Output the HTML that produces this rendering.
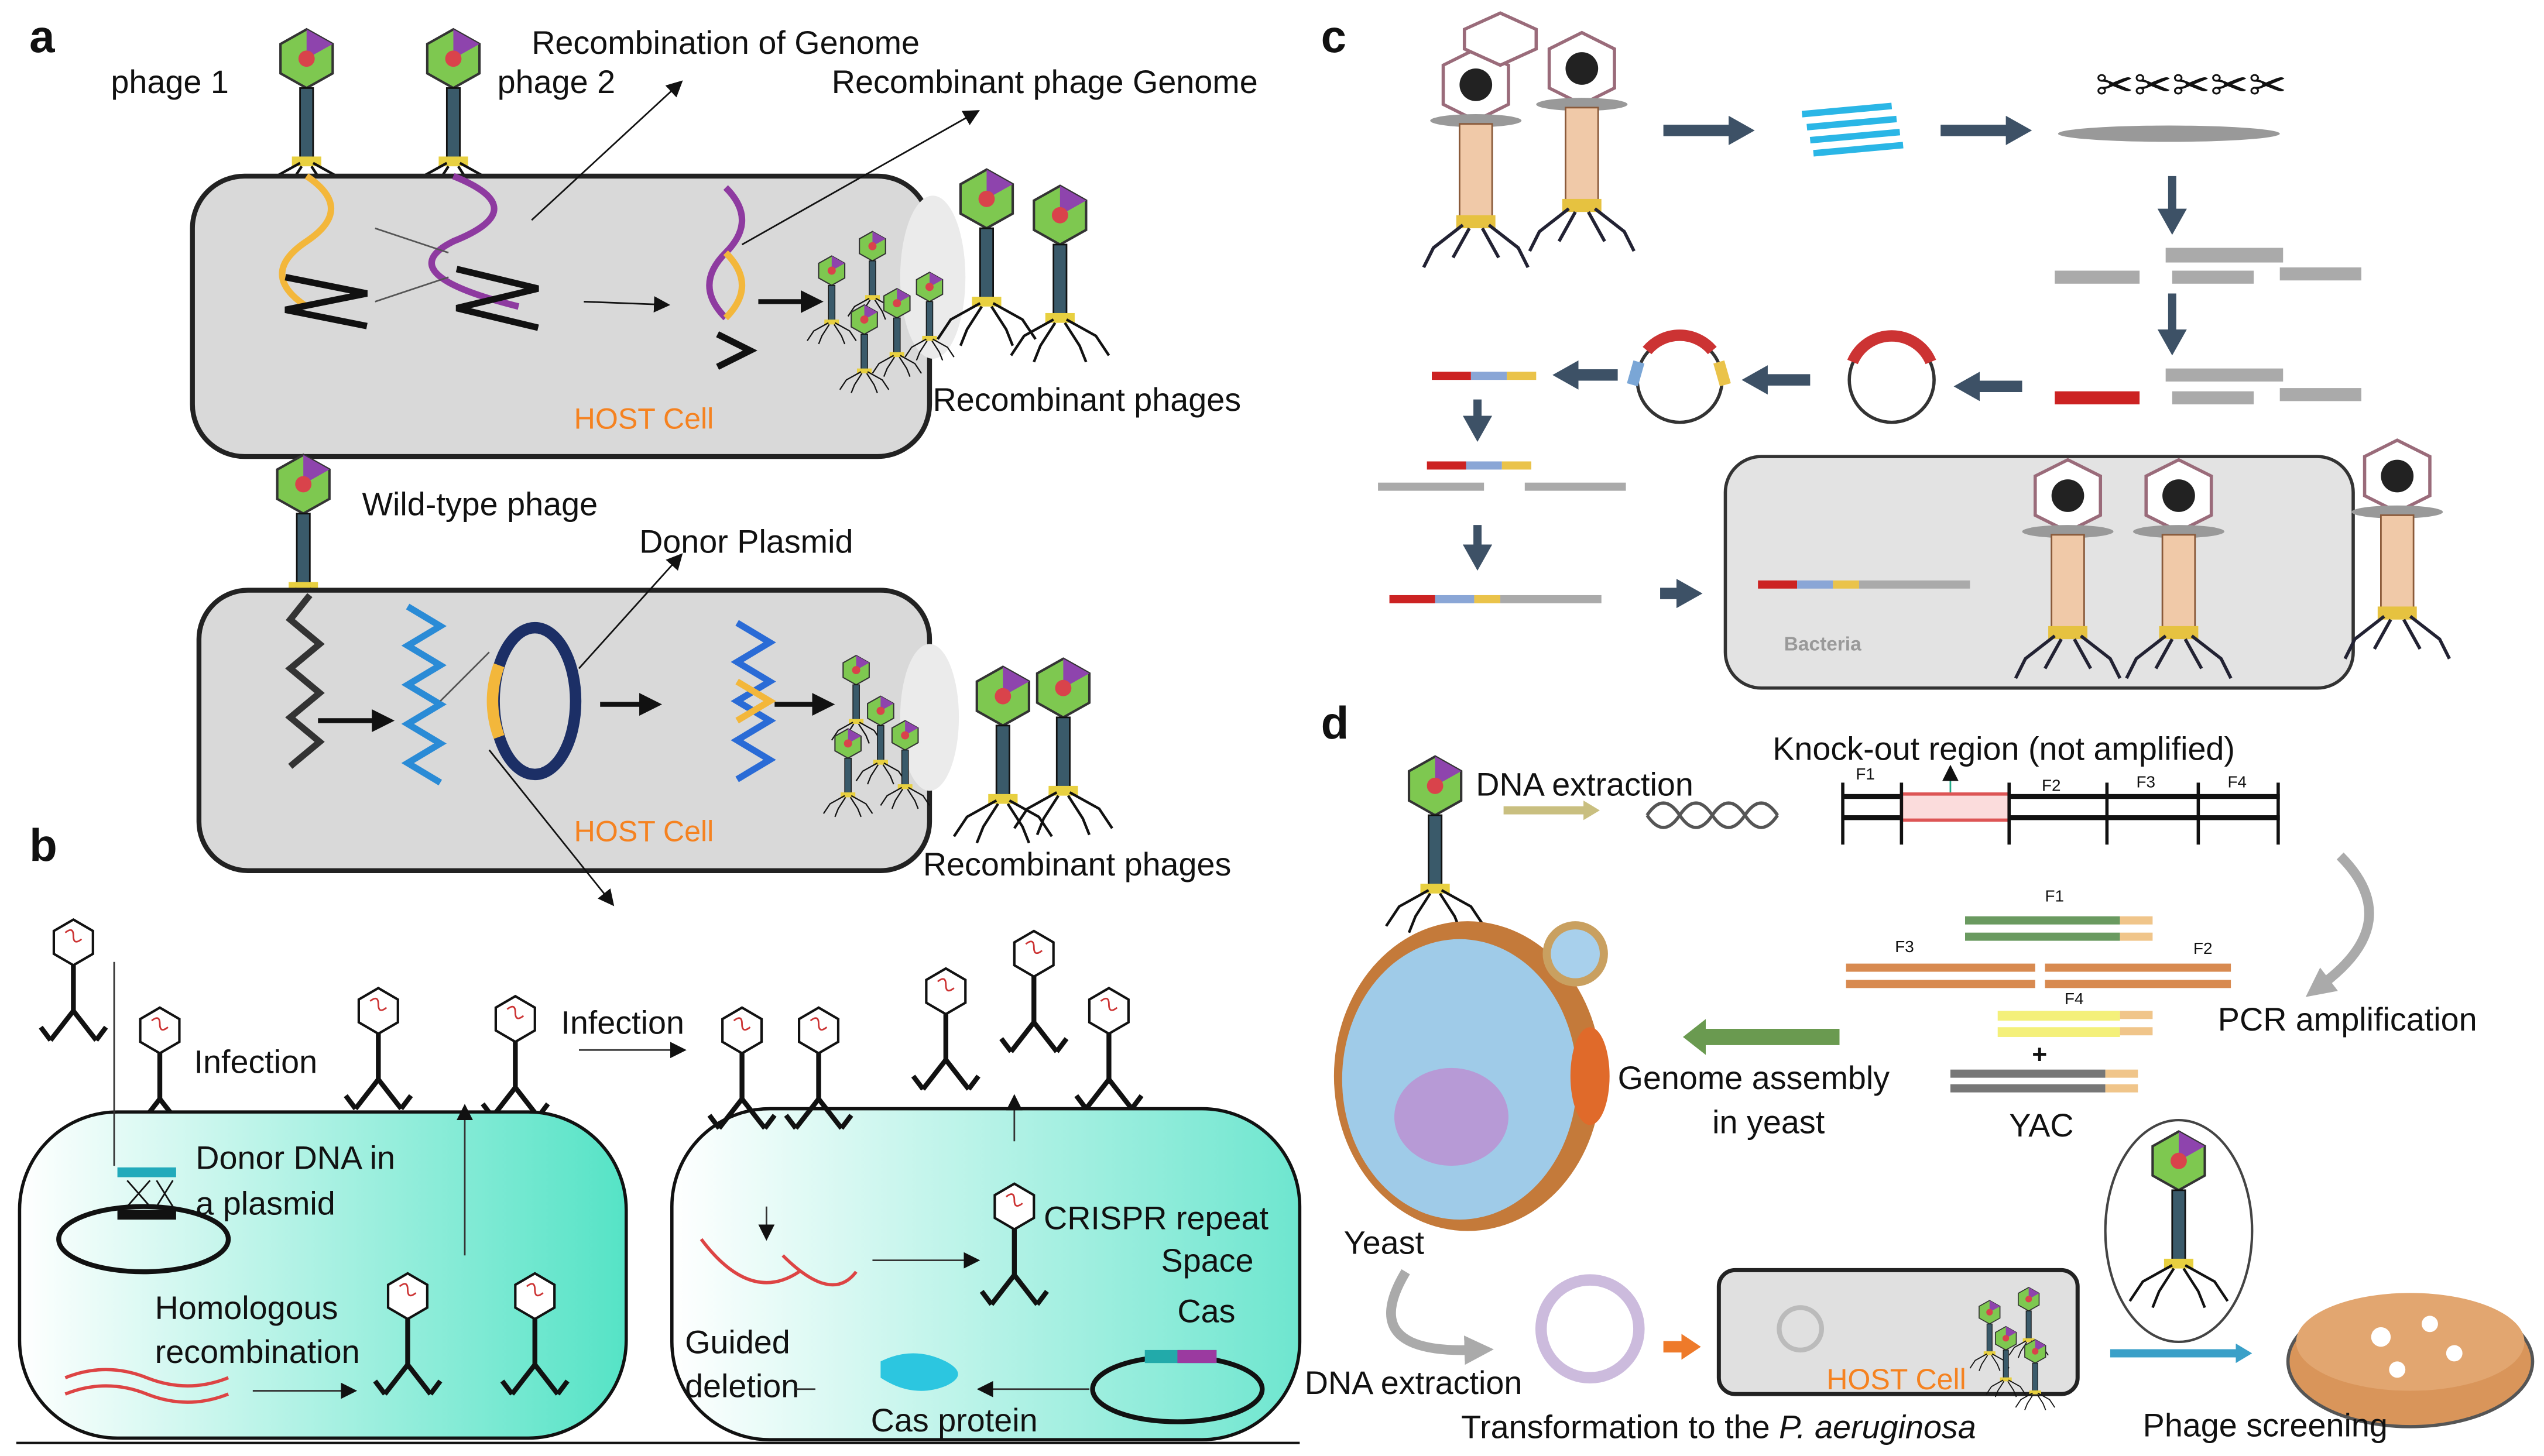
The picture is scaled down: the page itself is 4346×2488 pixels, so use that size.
<!DOCTYPE html>
<html><head><meta charset="utf-8"><style>
html,body{margin:0;padding:0;background:#fff}
svg{display:block}
text{font-family:"Liberation Sans",sans-serif;fill:#111}
</style></head><body>
<svg width="4346" height="2488" viewBox="0 0 1560 893" preserveAspectRatio="none" xmlns="http://www.w3.org/2000/svg">
<defs>
<linearGradient id="teal" x1="0" x2="1" y1="0" y2="0"><stop offset="0" stop-color="#ffffff"/><stop offset="1" stop-color="#55e3c6"/></linearGradient>
<linearGradient id="teal2" x1="0" x2="1" y1="0" y2="0"><stop offset="0" stop-color="#ffffff"/><stop offset="1" stop-color="#6ee6cf"/></linearGradient>
<g id="ph">
 <polygon points="0,-26 16,-17 16,1 0,10 -16,1 -16,-17" fill="#7ec850" stroke="#333" stroke-width="1.5"/>
 <polygon points="0,-26 16,-17 0,-8" fill="#8e44ad"/>
 <circle cx="0" cy="-8" r="5" fill="#d9434b"/>
 <rect x="-4" y="10" width="8" height="44" fill="#3a5a6a" stroke="#111"/>
 <rect x="-9" y="52" width="18" height="6" fill="#e8d040"/>
 <path d="M-4 56 L-22 66 L-30 78 M4 56 L22 66 L30 78 M-3 58 L-12 72 L-16 82 M3 58 L12 72 L16 82" stroke="#111" stroke-width="1.6" fill="none"/>
</g>
<g id="phb">
 <polygon points="0,-14 12,-7 12,7 0,14 -12,7 -12,-7" fill="#fff" stroke="#111" stroke-width="1.5"/>
 <path d="M-5 -6 q5 -4 5 2 q0 6 5 2" stroke="#c33" fill="none"/>
 <line x1="0" y1="14" x2="0" y2="42" stroke="#111" stroke-width="3"/>
 <path d="M0 42 L-14 60 M0 42 L14 60 M-14 60 L-20 52 M14 60 L20 52" stroke="#111" stroke-width="3" fill="none"/>
</g>
<g id="phc">
 <polygon points="0,-30 20,-20 20,4 0,14 -20,4 -20,-20" fill="#fff" stroke="#9a6b7a" stroke-width="2"/>
 <circle cx="0" cy="-8" r="10" fill="#222"/>
 <ellipse cx="0" cy="14" rx="28" ry="4" fill="#999"/>
 <rect x="-10" y="16" width="20" height="58" fill="#f0c9a8" stroke="#8a5a3a"/>
 <rect x="-12" y="72" width="24" height="8" fill="#e6c240"/>
 <path d="M-8 78 L-26 92 L-32 104 M8 78 L26 92 L32 104 M-4 80 L-14 98 M4 80 L14 98" stroke="#223" stroke-width="2" fill="none"/>
</g>
<marker id="ar" markerUnits="userSpaceOnUse" markerWidth="10" markerHeight="10" refX="9" refY="5" orient="auto"><path d="M0,0 L10,5 L0,10z" fill="#111"/></marker>
<marker id="arb" markerUnits="userSpaceOnUse" markerWidth="16" markerHeight="18" refX="4" refY="9" orient="auto"><path d="M0,0 L16,9 L0,18z" fill="#3d5166"/></marker>
<marker id="ark" markerUnits="userSpaceOnUse" markerWidth="14" markerHeight="14" refX="4" refY="7" orient="auto"><path d="M0,0 L14,7 L0,14z" fill="#111"/></marker>
<marker id="arg" markerUnits="userSpaceOnUse" markerWidth="18" markerHeight="18" refX="4" refY="9" orient="auto"><path d="M0,0 L18,9 L0,18z" fill="#aaa"/></marker>
<marker id="argr" markerUnits="userSpaceOnUse" markerWidth="14" markerHeight="22" refX="4" refY="11" orient="auto"><path d="M0,0 L14,11 L0,22z" fill="#6a9a50"/></marker>
<marker id="ary" markerUnits="userSpaceOnUse" markerWidth="10" markerHeight="12" refX="3" refY="6" orient="auto"><path d="M0,0 L10,6 L0,12z" fill="#c9bf80"/></marker>
<marker id="aro" markerUnits="userSpaceOnUse" markerWidth="12" markerHeight="16" refX="3" refY="8" orient="auto"><path d="M0,0 L12,8 L0,16z" fill="#ee7a2a"/></marker>
<marker id="arc" markerUnits="userSpaceOnUse" markerWidth="10" markerHeight="12" refX="3" refY="6" orient="auto"><path d="M0,0 L10,6 L0,12z" fill="#3aa0c8"/></marker>
</defs>
<rect width="1560" height="893" fill="#fff"/>

<!-- Panel a -->
<text x="18" y="32" font-size="28" font-weight="bold">a</text>
<text x="68" y="57" font-size="20">phage 1</text>
<text x="305" y="57" font-size="20">phage 2</text>
<text x="326" y="33" font-size="20">Recombination of Genome</text>
<text x="510" y="57" font-size="20">Recombinant phage Genome</text>
<use href="#ph" x="188" y="44"/>
<use href="#ph" x="278" y="44"/>
<rect x="118" y="108" width="452" height="172" rx="32" fill="#d9d9d9" stroke="#222" stroke-width="3"/>
<ellipse cx="572" cy="170" rx="20" ry="50" fill="#ebebeb"/>
<path d="M188 108 q30 20 0 40 q-30 20 0 40" stroke="#f3b73b" stroke-width="4" fill="none"/>
<path d="M278 108 q50 20 0 40 q-40 20 40 40" stroke="#8e3aa0" stroke-width="4" fill="none"/>
<path d="M175 170 l50 10 l-50 10 l50 10" stroke="#111" stroke-width="4" fill="none"/>
<path d="M280 165 l50 12 l-50 12 l50 12" stroke="#111" stroke-width="4" fill="none"/>
<line x1="230" y1="140" x2="275" y2="155" stroke="#555"/><line x1="230" y1="185" x2="275" y2="170" stroke="#555"/>
<line x1="358" y1="185" x2="410" y2="187" stroke="#111" marker-end="url(#ar)"/>
<path d="M445 115 q20 20 0 40 q-20 20 0 40" stroke="#8e3aa0" stroke-width="4" fill="none"/>
<path d="M445 155 q20 20 0 40" stroke="#f3b73b" stroke-width="4" fill="none"/>
<path d="M440 205 l20 10 l-20 10" stroke="#111" stroke-width="4" fill="none"/>
<line x1="465" y1="185" x2="495" y2="185" stroke="#111" stroke-width="3" marker-end="url(#ark)"/>
<line x1="326" y1="135" x2="418" y2="50" stroke="#111" marker-end="url(#ar)"/>
<line x1="455" y1="150" x2="600" y2="68" stroke="#111" marker-end="url(#ar)"/>
<g transform="scale(0.5)"><use href="#ph" x="1020" y="340"/><use href="#ph" x="1070" y="310"/><use href="#ph" x="1100" y="380"/><use href="#ph" x="1060" y="400"/><use href="#ph" x="1140" y="360"/></g>
<use href="#ph" x="605" y="130"/><use href="#ph" x="650" y="140"/>
<text x="352" y="263" font-size="18" style="fill:#f58220">HOST Cell</text>
<text x="572" y="252" font-size="20">Recombinant phages</text>

<use href="#ph" x="186" y="305"/>
<text x="222" y="316" font-size="20">Wild-type phage</text>
<text x="392" y="339" font-size="20">Donor Plasmid</text>
<rect x="122" y="362" width="448" height="172" rx="30" fill="#d9d9d9" stroke="#222" stroke-width="3"/>
<ellipse cx="570" cy="440" rx="18" ry="45" fill="#ebebeb"/>
<path d="M190 365 l-12 15 l18 15 l-18 15 l18 15 l-18 15 l18 15 l-18 15" stroke="#333" stroke-width="4" fill="none"/>
<line x1="195" y1="442" x2="232" y2="442" stroke="#111" stroke-width="3" marker-end="url(#ark)"/>
<path d="M250 372 l20 12 l-20 12 l20 12 l-20 12 l20 12 l-20 12 l20 12 l-20 12 l20 12" stroke="#2a8bd6" stroke-width="4" fill="none"/>
<ellipse cx="328" cy="430" rx="25" ry="45" fill="none" stroke="#1c2f66" stroke-width="7"/>
<path d="M306 408 q-8 22 0 44" stroke="#f3b73b" stroke-width="7" fill="none"/>
<line x1="368" y1="432" x2="396" y2="432" stroke="#111" stroke-width="3" marker-end="url(#ark)"/>
<path d="M452 382 l20 12 l-20 12 l20 12 l-20 12 l20 12 l-20 12 l20 12 l-20 12" stroke="#2a6bd6" stroke-width="4" fill="none"/>
<path d="M452 418 l20 12 l-20 12" stroke="#f3b73b" stroke-width="4" fill="none"/>
<line x1="475" y1="432" x2="502" y2="432" stroke="#111" stroke-width="3" marker-end="url(#ark)"/>
<line x1="355" y1="410" x2="418" y2="340" stroke="#111" marker-end="url(#ar)"/>
<line x1="300" y1="460" x2="376" y2="555" stroke="#111" marker-end="url(#ar)"/>
<line x1="270" y1="430" x2="300" y2="400" stroke="#555"/>
<g transform="scale(0.5)"><use href="#ph" x="1050" y="830"/><use href="#ph" x="1080" y="880"/><use href="#ph" x="1040" y="920"/><use href="#ph" x="1110" y="910"/></g>
<use href="#ph" x="615" y="435"/><use href="#ph" x="652" y="430"/>
<text x="352" y="516" font-size="18" style="fill:#f58220">HOST Cell</text>
<text x="566" y="537" font-size="20">Recombinant phages</text>

<!-- Panel b -->
<text x="18" y="528" font-size="28" font-weight="bold">b</text>
<use href="#phb" x="45" y="578"/>
<use href="#phb" x="98" y="632"/>
<use href="#phb" x="232" y="620"/>
<use href="#phb" x="316" y="625"/>
<text x="119" y="658" font-size="20">Infection</text>
<text x="344" y="634" font-size="20">Infection</text>
<line x1="355" y1="644" x2="420" y2="644" stroke="#333" marker-end="url(#ar)"/>
<rect x="12" y="682" width="372" height="200" rx="60" fill="url(#teal)" stroke="#111" stroke-width="2"/>
<text x="120" y="717" font-size="20">Donor DNA in</text>
<text x="120" y="745" font-size="20">a plasmid</text>
<ellipse cx="88" cy="760" rx="52" ry="20" fill="none" stroke="#111" stroke-width="3"/>
<rect x="72" y="716" width="36" height="6" fill="#2ab"/><rect x="72" y="742" width="36" height="6" fill="#111"/>
<path d="M78 724 l14 16 M92 724 l-14 16 M96 724 l10 16 M106 724 l-10 16" stroke="#111"/>
<line x1="70" y1="590" x2="70" y2="715" stroke="#333"/>
<line x1="285" y1="770" x2="285" y2="678" stroke="#333" marker-end="url(#ar)"/>
<text x="95" y="809" font-size="20">Homologous</text>
<text x="95" y="836" font-size="20">recombination</text>
<path d="M40 845 q25 -10 50 0 t50 0 M40 855 q25 -10 50 0 t50 0" stroke="#d44" stroke-width="2" fill="none"/>
<line x1="155" y1="853" x2="218" y2="853" stroke="#333" marker-end="url(#ar)"/>
<use href="#phb" x="250" y="795"/><use href="#phb" x="328" y="795"/>
<rect x="412" y="680" width="385" height="203" rx="60" fill="url(#teal2)" stroke="#111" stroke-width="2"/>
<use href="#phb" x="455" y="632"/><use href="#phb" x="502" y="632"/>
<use href="#phb" x="580" y="608"/><use href="#phb" x="634" y="585"/><use href="#phb" x="680" y="620"/>
<line x1="622" y1="700" x2="622" y2="672" stroke="#333" marker-end="url(#ar)"/>
<use href="#phb" x="622" y="740"/>
<text x="640" y="754" font-size="20">CRISPR repeat</text>
<text x="712" y="780" font-size="20">Space</text>
<text x="722" y="811" font-size="20">Cas</text>
<path d="M430 760 q30 40 60 20 M480 770 q30 30 45 10" stroke="#d44" stroke-width="2" fill="none"/>
<line x1="470" y1="740" x2="470" y2="760" stroke="#333" marker-end="url(#ar)"/>
<line x1="535" y1="773" x2="600" y2="773" stroke="#333" marker-end="url(#ar)"/>
<text x="420" y="830" font-size="20">Guided</text>
<text x="420" y="857" font-size="20">deletion</text>
<path d="M540 835 q20 -10 40 0 q15 8 0 15 q-20 8 -40 -5z" fill="#2cc6e0"/>
<ellipse cx="722" cy="852" rx="52" ry="20" fill="none" stroke="#111" stroke-width="3"/>
<rect x="702" y="828" width="44" height="8" fill="#2aa"/><rect x="722" y="828" width="24" height="8" fill="#9b3aa0"/>
<line x1="668" y1="852" x2="600" y2="852" stroke="#333" marker-end="url(#ar)"/>
<line x1="500" y1="852" x2="488" y2="852" stroke="#333"/>
<text x="534" y="878" font-size="20">Cas protein</text>
<line x1="10" y1="885" x2="797" y2="885" stroke="#111" stroke-width="1.5"/>

<!-- Panel c -->
<text x="810" y="32" font-size="28" font-weight="bold">c</text>
<use href="#phc" x="905" y="60"/><use href="#phc" x="970" y="50"/>
<polygon points="920,8 942,18 942,30 920,40 898,30 898,18" fill="#fff" stroke="#9a6b7a" stroke-width="2"/>
<path d="M1020 80 h44" stroke="#3d5166" stroke-width="7" marker-end="url(#arb)"/>
<path d="M1105 70 l55 -5 M1108 78 l55 -5 M1110 86 l55 -5 M1112 94 l55 -5" stroke="#2ab6e6" stroke-width="4"/>
<path d="M1190 80 h44" stroke="#3d5166" stroke-width="7" marker-end="url(#arb)"/>
<ellipse cx="1330" cy="82" rx="68" ry="5" fill="#999"/>
<text x="1285" y="62" font-size="28">✂✂✂✂✂</text>
<path d="M1332 108 v24" stroke="#3d5166" stroke-width="5" marker-end="url(#arb)"/>
<rect x="1328" y="152" width="72" height="9" fill="#aaa"/><rect x="1260" y="166" width="52" height="8" fill="#aaa"/><rect x="1332" y="166" width="50" height="8" fill="#aaa"/><rect x="1398" y="164" width="50" height="8" fill="#aaa"/>
<path d="M1332 180 v26" stroke="#3d5166" stroke-width="5" marker-end="url(#arb)"/>
<rect x="1328" y="226" width="72" height="8" fill="#aaa"/><rect x="1260" y="240" width="52" height="8" fill="#c22"/><rect x="1332" y="240" width="50" height="8" fill="#aaa"/><rect x="1398" y="238" width="50" height="8" fill="#aaa"/>
<path d="M1240 237 h-30" stroke="#3d5166" stroke-width="7" marker-end="url(#arb)"/>
<circle cx="1160" cy="233" r="26" fill="none" stroke="#333" stroke-width="2"/>
<path d="M1136 222 a26 26 0 0 1 48 0" stroke="#c33" stroke-width="7" fill="none"/>
<path d="M1110 233 h-30" stroke="#3d5166" stroke-width="7" marker-end="url(#arb)"/>
<circle cx="1030" cy="233" r="26" fill="none" stroke="#333" stroke-width="2"/>
<path d="M1010 215 a26 26 0 0 1 40 0" stroke="#c33" stroke-width="7" fill="none"/>
<path d="M1005 222 l-4 14" stroke="#7aa6d6" stroke-width="7"/><path d="M1054 222 l4 14" stroke="#eac34a" stroke-width="7"/>
<path d="M992 230 h-28" stroke="#3d5166" stroke-width="7" marker-end="url(#arb)"/>
<rect x="878" y="228" width="24" height="5" fill="#c22"/><rect x="902" y="228" width="22" height="5" fill="#8aa6d6"/><rect x="924" y="228" width="18" height="5" fill="#eac34a"/>
<path d="M906 245 v14" stroke="#3d5166" stroke-width="5" marker-end="url(#arb)"/>
<rect x="875" y="283" width="24" height="5" fill="#c22"/><rect x="899" y="283" width="22" height="5" fill="#8aa6d6"/><rect x="921" y="283" width="18" height="5" fill="#eac34a"/>
<rect x="845" y="296" width="65" height="5" fill="#aaa"/><rect x="935" y="296" width="62" height="5" fill="#aaa"/>
<path d="M906 322 v16" stroke="#3d5166" stroke-width="5" marker-end="url(#arb)"/>
<rect x="852" y="365" width="28" height="5" fill="#c22"/><rect x="880" y="365" width="24" height="5" fill="#8aa6d6"/><rect x="904" y="365" width="16" height="5" fill="#eac34a"/><rect x="920" y="365" width="62" height="5" fill="#aaa"/>
<path d="M1018 364 h14" stroke="#3d5166" stroke-width="7" marker-end="url(#arb)"/>
<rect x="1058" y="280" width="385" height="142" rx="22" fill="#e3e3e3" stroke="#333" stroke-width="2"/>
<rect x="1078" y="356" width="24" height="5" fill="#c22"/><rect x="1102" y="356" width="22" height="5" fill="#8aa6d6"/><rect x="1124" y="356" width="16" height="5" fill="#eac34a"/><rect x="1140" y="356" width="68" height="5" fill="#aaa"/>
<text x="1094" y="399" font-size="12" font-weight="bold" style="fill:#999">Bacteria</text>
<use href="#phc" x="1268" y="312"/><use href="#phc" x="1336" y="312"/><use href="#phc" x="1470" y="300"/>

<!-- Panel d -->
<text x="810" y="453" font-size="28" font-weight="bold">d</text>
<use href="#ph" x="880" y="490"/>
<text x="905" y="488" font-size="20">DNA extraction</text>
<path d="M922 497 h52" stroke="#c9bf80" stroke-width="5" marker-end="url(#ary)"/>
<path d="M1010 500 q10 -15 20 0 t20 0 t20 0 t20 0 M1010 500 q10 15 20 0 t20 0 t20 0 t20 0" stroke="#555" stroke-width="2" fill="none"/>
<text x="1087" y="466" font-size="20">Knock-out region (not amplified)</text>
<rect x="1130" y="487" width="268" height="3" fill="#111"/><rect x="1130" y="500" width="268" height="3" fill="#111"/>
<rect x="1166" y="487" width="66" height="16" fill="#fbdcdc" stroke="#d55" stroke-width="2"/>
<g stroke="#111" stroke-width="2"><line x1="1130" y1="480" x2="1130" y2="518"/><line x1="1166" y1="480" x2="1166" y2="518"/><line x1="1232" y1="480" x2="1232" y2="518"/><line x1="1292" y1="480" x2="1292" y2="518"/><line x1="1348" y1="480" x2="1348" y2="518"/><line x1="1397" y1="480" x2="1397" y2="518"/></g>
<line x1="1196" y1="486" x2="1196" y2="470" stroke="#2a8" marker-end="url(#ar)"/>
<text x="1138" y="478" font-size="10">F1</text><text x="1252" y="485" font-size="10">F2</text><text x="1310" y="483" font-size="10">F3</text><text x="1366" y="483" font-size="10">F4</text>
<path d="M1435 525 q40 40 -10 78" stroke="#aaa" stroke-width="6" fill="none" marker-end="url(#arg)"/>
<text x="1360" y="632" font-size="20">PCR amplification</text>
<text x="1254" y="553" font-size="10">F1</text>
<rect x="1205" y="562" width="95" height="5" fill="#6a9a60"/><rect x="1205" y="572" width="95" height="5" fill="#6a9a60"/><rect x="1300" y="562" width="20" height="5" fill="#f0c58a"/><rect x="1300" y="572" width="20" height="5" fill="#f0c58a"/>
<text x="1162" y="584" font-size="10">F3</text><text x="1345" y="585" font-size="10">F2</text>
<rect x="1132" y="591" width="116" height="5" fill="#d88a50"/><rect x="1132" y="601" width="116" height="5" fill="#d88a50"/><rect x="1254" y="591" width="114" height="5" fill="#d88a50"/><rect x="1254" y="601" width="114" height="5" fill="#d88a50"/>
<text x="1266" y="616" font-size="10">F4</text>
<rect x="1225" y="620" width="75" height="6" fill="#f4f07a"/><rect x="1225" y="630" width="75" height="6" fill="#f4f07a"/><rect x="1300" y="620" width="20" height="5" fill="#f0c58a"/><rect x="1300" y="630" width="20" height="5" fill="#f0c58a"/>
<text x="1246" y="652" font-size="16" font-weight="bold">+</text>
<rect x="1196" y="656" width="95" height="5" fill="#777"/><rect x="1196" y="665" width="95" height="5" fill="#777"/><rect x="1291" y="656" width="20" height="5" fill="#f0c58a"/><rect x="1291" y="665" width="20" height="5" fill="#f0c58a"/>
<text x="1232" y="697" font-size="20">YAC</text>
<path d="M1128 636 h-86" stroke="#6a9a50" stroke-width="10" marker-end="url(#argr)"/>
<text x="992" y="668" font-size="20">Genome assembly</text>
<text x="1050" y="695" font-size="20">in yeast</text>
<ellipse cx="900" cy="660" rx="82" ry="95" fill="#c47a3a"/>
<ellipse cx="895" cy="662" rx="72" ry="86" fill="#9fcbe8"/>
<circle cx="966" cy="585" r="20" fill="#c9a060"/><circle cx="966" cy="585" r="15" fill="#a8d0ec"/>
<ellipse cx="890" cy="685" rx="35" ry="30" fill="#b79ad6"/>
<ellipse cx="975" cy="660" rx="12" ry="30" fill="#e06a2a"/>
<text x="824" y="769" font-size="20">Yeast</text>
<path d="M862 780 q-30 50 40 48" stroke="#aaa" stroke-width="6" fill="none" marker-end="url(#arg)"/>
<text x="800" y="855" font-size="20">DNA extraction</text>
<circle cx="975" cy="815" r="30" fill="none" stroke="#cbd" stroke-width="7"/>
<path d="M1020 826 h14" stroke="#ee7a2a" stroke-width="7" marker-end="url(#aro)"/>
<rect x="1054" y="779" width="220" height="76" rx="10" fill="#e0e0e0" stroke="#222" stroke-width="2.5"/>
<circle cx="1104" cy="815" r="13" fill="none" stroke="#bbb" stroke-width="3"/>
<text x="1120" y="852" font-size="18" style="fill:#f58220">HOST Cell</text>
<g transform="scale(0.4)"><use href="#ph" x="3050" y="2020"/><use href="#ph" x="3110" y="2000"/><use href="#ph" x="3075" y="2060"/><use href="#ph" x="3120" y="2080"/></g>
<ellipse cx="1336" cy="755" rx="45" ry="68" fill="#fff" stroke="#444" stroke-width="1.5"/>
<use href="#ph" x="1336" y="720"/>
<path d="M1294 830 h80" stroke="#3aa0c8" stroke-width="5" marker-end="url(#arc)"/>
<ellipse cx="1478" cy="835" rx="75" ry="40" fill="#d9955a" stroke="#555" stroke-width="2"/>
<ellipse cx="1478" cy="823" rx="70" ry="30" fill="#e2a670"/>
<circle cx="1460" cy="820" r="6" fill="#fff"/><circle cx="1490" cy="812" r="5" fill="#fff"/><circle cx="1505" cy="830" r="5" fill="#fff"/><circle cx="1470" cy="840" r="5" fill="#fff"/>
<text x="896" y="882" font-size="20">Transformation to the <tspan font-style="italic">P. aeruginosa</tspan></text>
<text x="1314" y="881" font-size="20">Phage screening</text>
</svg>
</body></html>
